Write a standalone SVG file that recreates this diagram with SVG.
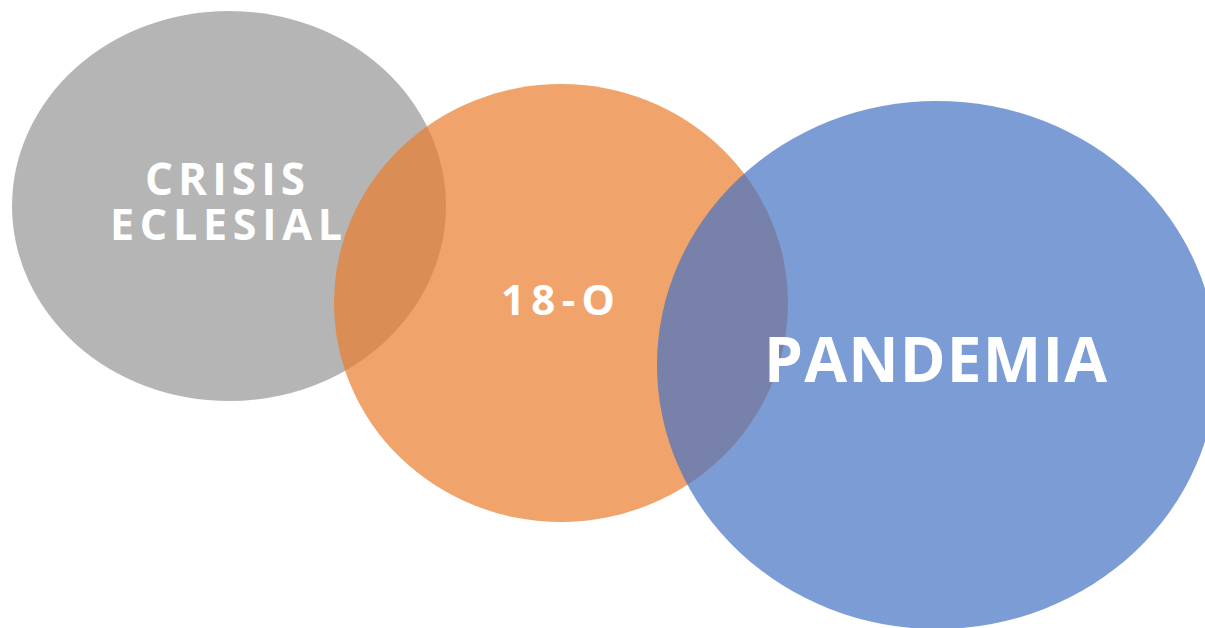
<svg xmlns="http://www.w3.org/2000/svg" width="1205" height="628" viewBox="0 0 1205 628">
<style>
.c{opacity:0.7}
.t{font-family:"Open Sans","Liberation Sans",sans-serif;font-weight:700;fill:#ffffff}
</style>
<rect width="1205" height="628" fill="#ffffff"/>
<g id="node-crisis"><ellipse class="c" cx="229" cy="206" rx="217" ry="195" fill="#959595"/></g>
<g id="node-18o"><ellipse class="c" cx="561" cy="303" rx="227" ry="219" fill="#EA7D2D"/></g>
<g id="node-pandemia"><ellipse class="c" cx="937" cy="365" rx="280" ry="264" fill="#4472C3"/></g>
<g id="connectors"></g>
<g id="labels">
<text class="t" x="145" y="195" font-size="44" textLength="160" lengthAdjust="spacing">CRISIS</text>
<text class="t" x="110" y="240" font-size="43" textLength="232" lengthAdjust="spacing">ECLESIAL</text>
<text class="t" x="501" y="315" font-size="42" textLength="114" lengthAdjust="spacing">18-O</text>
<text class="t" x="764" y="382" font-size="62" textLength="343" lengthAdjust="spacing">PANDEMIA</text>
</g>
</svg>
